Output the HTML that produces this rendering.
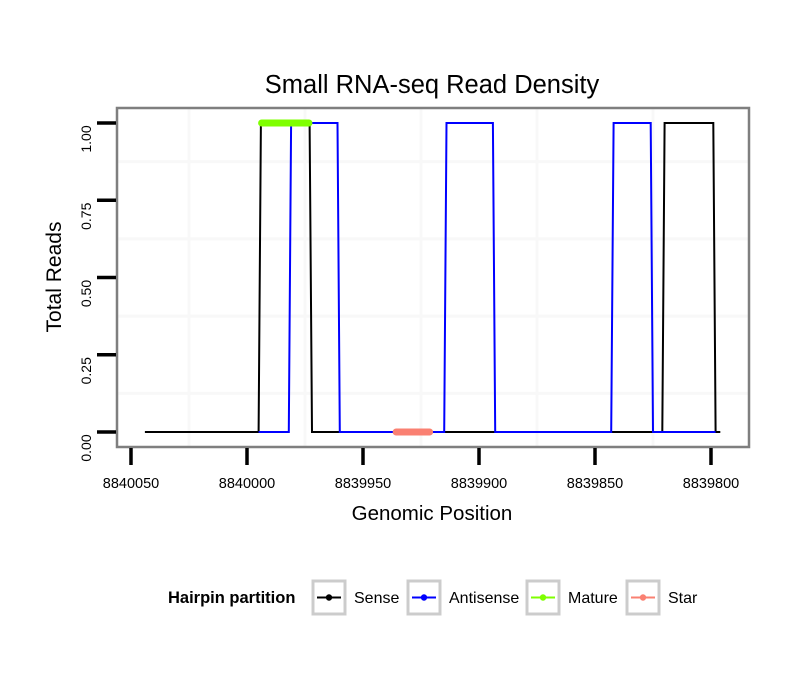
<!DOCTYPE html>
<html><head><meta charset="utf-8"><style>
body{margin:0;background:#fff;}
svg{display:block;font-family:"Liberation Sans",sans-serif;}
</style></head><body>
<svg id="chart" width="810" height="690">
<rect x="0" y="0" width="810" height="690" fill="#fff"/>
<text x="432" y="93" font-size="25.5" text-anchor="middle">Small RNA-seq Read Density</text>
<rect x="117" y="108" width="632" height="339" fill="#fff"/>
<g id="grid"></g>
<g id="series"></g>
<rect x="117" y="108" width="632" height="339" fill="none" stroke="#7f7f7f" stroke-width="2.5"/>
<g id="axes"></g>
<text x="432" y="520" font-size="20.5" text-anchor="middle">Genomic Position</text>
<text transform="translate(61,277) rotate(-90)" font-size="21" text-anchor="middle">Total Reads</text>
<g>
<text x="168" y="603" font-size="16.5" font-weight="bold">Hairpin partition</text>
<g id="legend"></g>
</g>
</svg>
<script>
const xTicks = [8840050, 8840000, 8839950, 8839900, 8839850, 8839800];
const xGrid = [8840025, 8839975, 8839925, 8839875, 8839825];
const yTicks = [0, 0.25, 0.5, 0.75, 1];
const yTickLabels = ["0.00", "0.25", "0.50", "0.75", "1.00"];
const yGrid = [0.125, 0.375, 0.625, 0.875];
const senseData = [[8840044,0],[8839995,0],[8839994,1],[8839973,1],[8839972,0],[8839821,0],[8839820,1],[8839799,1],[8839798,0],[8839796,0]];
const antisenseData = [[8839995,0],[8839982,0],[8839981,1],[8839961,1],[8839960,0],[8839915,0],[8839914,1],[8839894,1],[8839893,0],[8839843,0],[8839842,1],[8839826,1],[8839825,0],[8839798,0]];
const matureRange = [8839995, 8839972];
const matureValue = 1;
const starRange = [8839937, 8839920];
const starValue = 0;
const legendLabels = ["Sense", "Antisense", "Mature", "Star"];
const legendColors = ["#000000", "#0000ff", "#7fff00", "#fa8072"];

const NS = "http://www.w3.org/2000/svg";
function X(v){ return 131 + (8840050 - v) * 2.32; }
function Y(v){ return 432 - v * 309; }
function mk(tag, attrs, parent){
  const e = document.createElementNS(NS, tag);
  for (const k in attrs) e.setAttribute(k, attrs[k]);
  parent.appendChild(e);
  return e;
}
const grid = document.getElementById('grid');
xGrid.forEach(v => {
  const l = mk('line', {x1:X(v), x2:X(v), y1:109, y2:446, stroke:'#f8f8f8', 'stroke-width':3}, grid);
  
  
});
yGrid.forEach(v => {
  const l = mk('line', {x1:118, x2:748, y1:Y(v), y2:Y(v), stroke:'#f8f8f8', 'stroke-width':3}, grid);
  
  
});
const series = document.getElementById('series');
function path(data){ return data.map((d,i)=>(i?'L':'M')+X(d[0]).toFixed(1)+','+Y(d[1]).toFixed(1)).join(''); }
const s1 = mk('path', {d:path(senseData), fill:'none', stroke:'#000', 'stroke-width':2}, series);


const s2 = mk('path', {d:path(antisenseData), fill:'none', stroke:'#0000ff', 'stroke-width':2}, series);


const m = mk('line', {x1:X(matureRange[0])+3, x2:X(matureRange[1])-3, y1:Y(matureValue), y2:Y(matureValue), stroke:'#7fff00', 'stroke-width':7, 'stroke-linecap':'round'}, series);


const st = mk('line', {x1:X(starRange[0])+3, x2:X(starRange[1])-3, y1:Y(starValue), y2:Y(starValue), stroke:'#fa8072', 'stroke-width':7, 'stroke-linecap':'round'}, series);


const axes = document.getElementById('axes');
xTicks.forEach(v => {
  const t = mk('line', {x1:X(v), x2:X(v), y1:448, y2:465, stroke:'#000', 'stroke-width':3.5}, axes);
  
  
  const tx = mk('text', {x:X(v), y:488, 'font-size':14.5, 'text-anchor':'middle'}, axes);
  tx.textContent = v;
  
  
});
yTicks.forEach((v,i) => {
  const t = mk('line', {x1:97, x2:116, y1:Y(v), y2:Y(v), stroke:'#000', 'stroke-width':3.5}, axes);
  
  
  const tx = mk('text', {transform:'translate(91,'+(Y(v)+16)+') rotate(-90)', 'font-size':14, 'text-anchor':'middle'}, axes);
  tx.textContent = yTickLabels[i];
  
  
});
const legend = document.getElementById('legend');
const keyX = [313, 408, 527, 627];
legendLabels.forEach((lab,i) => {
  const g = mk('g', {}, legend);
  
  
  mk('rect', {x:keyX[i], y:581, width:32, height:33, fill:'#fff', stroke:'#cccccc', 'stroke-width':3}, g);
  mk('line', {x1:keyX[i]+4, x2:keyX[i]+28, y1:597.5, y2:597.5, stroke:legendColors[i], 'stroke-width':2}, g);
  mk('circle', {cx:keyX[i]+16, cy:597.5, r:3.2, fill:legendColors[i]}, g);
  const tx = mk('text', {x:keyX[i]+41, y:603, 'font-size':16}, g);
  tx.textContent = lab;
});
</script>
</body></html>
